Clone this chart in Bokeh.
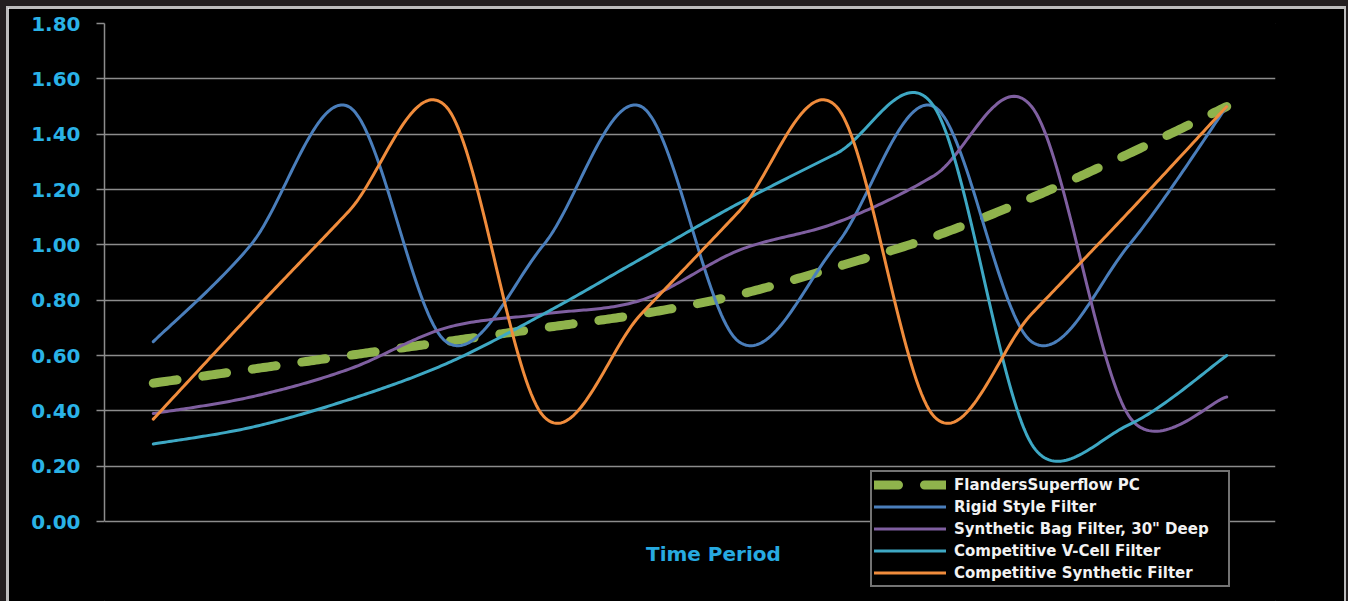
import numpy as np
from bokeh.plotting import figure
from bokeh.models import (Range1d, FixedTicker, PrintfTickFormatter, Legend,
                          LegendItem, Label)
from bokeh.embed import file_html
from bokeh.resources import INLINE

# ---- data ----
periods = list(range(12))
flanders = [0.50, 0.55, 0.60, 0.65, 0.70, 0.75, 0.82, 0.92, 1.03, 1.17, 1.33, 1.50]
rigid = [0.65, 1.00, 1.50, 0.65, 1.00, 1.50, 0.65, 1.00, 1.50, 0.65, 1.00, 1.50]
synthetic_bag = [0.39, 0.45, 0.55, 0.70, 0.75, 0.80, 0.98, 1.08, 1.25, 1.50, 0.38, 0.45]
v_cell = [0.28, 0.34, 0.44, 0.57, 0.75, 0.95, 1.15, 1.33, 1.50, 0.28, 0.35, 0.60]
comp_synthetic = [0.37, 0.75, 1.12, 1.50, 0.38, 0.75, 1.12, 1.50, 0.38, 0.75, 1.12, 1.50]

series_names = ["FlandersSuperflow PC", "Rigid Style Filter",
                "Synthetic Bag Filter, 30\" Deep", "Competitive V-Cell Filter",
                "Competitive Synthetic Filter"]
y_ticks = [0.0, 0.2, 0.4, 0.6, 0.8, 1.0, 1.2, 1.4, 1.6, 1.8]

# pixel scale of the plot frame (used only to shape the smoothing like Excel does)
PX_X = 1171.0 / 12.0
PX_Y = 498.0 / 1.8


def smooth(xs, ys, steps=40):
    """Excel-like smoothed line: cubic Bezier through the points, control
    handles (1/6 of neighbour chord) limited to half of the segment length."""
    X = np.asarray(xs, float) * PX_X
    Y = np.asarray(ys, float) * PX_Y
    n = len(X)
    P = np.stack([X, Y], axis=1)
    outx, outy = [], []
    t = np.linspace(0, 1, steps)[:, None]
    for i in range(n - 1):
        a = P[max(i - 1, 0)]
        b = P[i]
        c = P[i + 1]
        d = P[min(i + 2, n - 1)]
        seg = np.linalg.norm(c - b)
        v1 = (c - a) / 6.0
        v2 = (d - b) / 6.0
        l1 = np.linalg.norm(v1)
        l2 = np.linalg.norm(v2)
        if l1 > seg / 2 and l1 > 0:
            v1 = v1 * (seg / 2) / l1
        if l2 > seg / 2 and l2 > 0:
            v2 = v2 * (seg / 2) / l2
        c1 = b + v1
        c2 = c - v2
        B = ((1 - t) ** 3) * b + 3 * ((1 - t) ** 2) * t * c1 + 3 * (1 - t) * t ** 2 * c2 + t ** 3 * c
        if i > 0:
            B = B[1:]
        outx.extend((B[:, 0] / PX_X).tolist())
        outy.extend((B[:, 1] / PX_Y).tolist())
    return outx, outy


p = figure(width=1336, height=593, output_backend="svg", toolbar_location=None,
           x_range=Range1d(-0.5, 11.5), y_range=Range1d(-80.0 / PX_Y, 1.8),
           x_axis_location=None,
           min_border_left=96, min_border_right=69, min_border_top=15,
           min_border_bottom=0)
p.margin = (8, 4, 0, 8)
p.styles = {"box-shadow": "0 0 0 2px #bdbdbd, 0 0 0 10px #231f20"}
p.background_fill_color = "black"
p.border_fill_color = "black"
p.outline_line_color = "black"
p.outline_line_alpha = 1.0
p.outline_line_width = 1

grey = "#8c8c8c"
for g in p.xgrid:
    g.visible = False
p.ygrid.grid_line_color = grey
p.ygrid.grid_line_width = 1.4

p.yaxis.ticker = FixedTicker(ticks=y_ticks)
p.yaxis.bounds = (0, 1.8)
p.yaxis.formatter = PrintfTickFormatter(format="%.2f")
p.yaxis.axis_line_color = grey
p.yaxis.axis_line_width = 1.5
p.yaxis.major_tick_line_color = grey
p.yaxis.major_tick_line_width = 1.4
p.yaxis.major_tick_out = 8
p.yaxis.major_tick_in = 0
p.yaxis.minor_tick_line_color = None
p.yaxis.major_label_standoff = 16
p.yaxis.major_label_text_color = "#2ab2e6"
p.yaxis.major_label_text_font = "DejaVu Sans"
p.yaxis.major_label_text_font_style = "bold"
p.yaxis.major_label_text_font_size = "20px"

colors = ["#8fb34c", "#4a7ebb", "#7f5fa0", "#3ea8c4", "#f08c3c"]
data = [flanders, rigid, synthetic_bag, v_cell, comp_synthetic]

renderers = []
for i, (ys, c) in enumerate(zip(data, colors)):
    sx, sy = smooth(periods, ys)
    if i == 0:
        r = p.line(sx, sy, line_color=c, line_width=9, line_dash="24 26",
                   line_cap="round", line_join="round")
    else:
        r = p.line(sx, sy, line_color=c, line_width=3, line_cap="round",
                   line_join="round")
    renderers.append(r)

legend = Legend(items=[LegendItem(label=n, renderers=[r]) for n, r in zip(series_names, renderers)],
                location=(766, 14))
legend.background_fill_color = "black"
legend.background_fill_alpha = 1.0
legend.border_line_color = "#e6e6e6"
legend.border_line_width = 2
legend.label_text_color = "#f2f2f2"
legend.label_text_font = "DejaVu Sans"
legend.label_text_font_style = "bold"
legend.label_text_font_size = "15px"
legend.glyph_width = 72
legend.glyph_height = 21
legend.label_height = 21
legend.label_width = 272
legend.label_standoff = 8
legend.spacing = 1
legend.padding = 2
legend.margin = 0
p.add_layout(legend, "center")

p.add_layout(Label(x=5.74, y=-0.116, text="Time Period", text_align="center",
                   text_baseline="middle", text_color="#27aae1",
                   text_font="DejaVu Sans", text_font_style="bold",
                   text_font_size="20px"))

open("out.html", "w").write(file_html(p, INLINE))
